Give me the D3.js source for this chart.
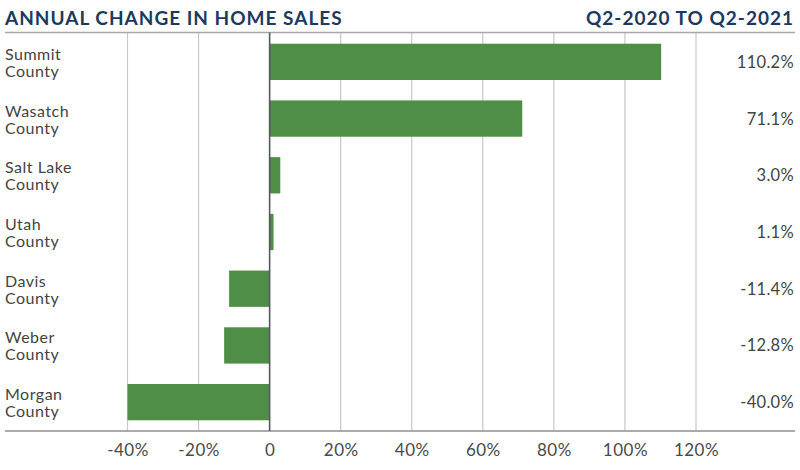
<!DOCTYPE html>
<html>
<head>
<meta charset="utf-8">
<script src="https://cdn.jsdelivr.net/npm/d3@7"></script>
<style>
  body { margin: 0; background: #fff; }
  text { font-family: Lato, "Open Sans", sans-serif; }
</style>
</head>
<body>
<div id="chart"></div>
<script>
const counties = ['Summit County', 'Wasatch County', 'Salt Lake County', 'Utah County', 'Davis County', 'Weber County', 'Morgan County'];
const changes = [110.2, 71.1, 3.0, 1.1, -11.4, -12.8, -40.0];
const ticks = [-40, -20, 0, 20, 40, 60, 80, 100, 120];

const width = 800, height = 470;
const plotTop = 32.5, plotBottom = 431;

const svg = d3.select('#chart').append('svg')
    .attr('width', width)
    .attr('height', height);

// title
svg.append('text')
    .attr('x', 5).attr('y', 25)
    .attr('fill', '#1b3a5e')
    .attr('font-size', 19)
    .attr('font-weight', 'bold')
    .attr('letter-spacing', 1.0)
    .text('ANNUAL CHANGE IN HOME SALES');

svg.append('text')
    .attr('x', 794).attr('y', 25)
    .attr('text-anchor', 'end')
    .attr('fill', '#1b3a5e')
    .attr('font-size', 19)
    .attr('font-weight', 'bold')
    .attr('letter-spacing', 1.0)
    .text('Q2-2020 TO Q2-2021');

const x = d3.scaleLinear().domain([-40, 120]).range([127.5, 696]);
const y = d3.scaleBand().domain(counties).range([33.5, 430.5]).paddingInner(0.36).paddingOuter(0.18);

// gridlines
svg.append('g')
  .selectAll('line')
  .data(ticks.filter(t => t !== 0))
  .join('line')
    .attr('x1', d => x(d)).attr('x2', d => x(d))
    .attr('y1', plotTop).attr('y2', plotBottom)
    .attr('stroke', '#c8c8c8')
    .attr('stroke-width', 1.2);

// top and bottom rules
svg.append('line')
    .attr('x1', 5).attr('x2', 795)
    .attr('y1', plotTop).attr('y2', plotTop)
    .attr('stroke', '#a8a8a8').attr('stroke-width', 1.5);

svg.append('line')
    .attr('x1', 5).attr('x2', 795)
    .attr('y1', plotBottom).attr('y2', plotBottom)
    .attr('stroke', '#8f8f8f').attr('stroke-width', 1.5);

// bars
svg.append('g')
  .selectAll('rect')
  .data(changes)
  .join('rect')
    .attr('x', d => x(Math.min(0, d)))
    .attr('width', d => Math.abs(x(d) - x(0)))
    .attr('y', (d, i) => y(counties[i]))
    .attr('height', y.bandwidth())
    .attr('fill', '#4f8e46');

// zero line
svg.append('line')
    .attr('x1', x(0)).attr('x2', x(0))
    .attr('y1', plotTop).attr('y2', plotBottom)
    .attr('stroke', '#55595e').attr('stroke-width', 1.6);

// axis labels
const axis = d3.axisBottom(x)
    .tickValues(ticks)
    .tickSize(0)
    .tickPadding(0)
    .tickFormat(d => d === 0 ? '0' : d + '%');

const gx = svg.append('g')
    .attr('transform', `translate(0, 444)`)
    .call(axis);
gx.select('.domain').remove();
gx.selectAll('text')
    .attr('font-family', 'Lato, "Open Sans", sans-serif')
    .attr('font-size', 17)
    .attr('letter-spacing', 0.5)
    .attr('fill', '#4a4a4a');

// category labels
const cat = svg.append('g')
  .selectAll('text')
  .data(counties)
  .join('text')
    .attr('x', 5)
    .attr('y', d => y(d) + y.bandwidth() / 2 - 2)
    .attr('font-size', 16)
    .attr('letter-spacing', 0.5)
    .attr('fill', '#444');
cat.each(function(d) {
  const parts = d.split(' ');
  const first = parts.slice(0, -1).join(' ');
  const last = parts[parts.length - 1];
  d3.select(this).append('tspan').attr('x', 5).attr('dy', 0).text(first);
  d3.select(this).append('tspan').attr('x', 5).attr('dy', 17).text(last);
});

// value labels
svg.append('g')
  .selectAll('text')
  .data(changes)
  .join('text')
    .attr('x', 794)
    .attr('y', (d, i) => y(counties[i]) + y.bandwidth() / 2 + 6)
    .attr('text-anchor', 'end')
    .attr('font-size', 16.5)
    .attr('letter-spacing', 0.3)
    .attr('fill', '#444')
    .text(d => d.toFixed(1) + '%');
</script>
</body>
</html>
